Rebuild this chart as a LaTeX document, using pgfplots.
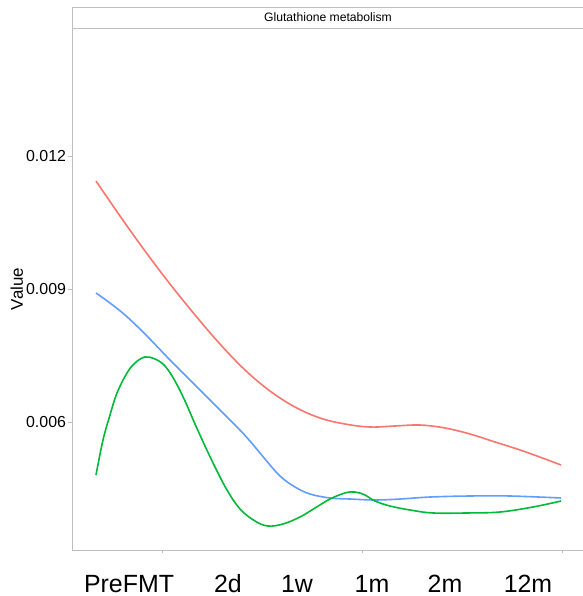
\documentclass[border=0pt]{standalone}
\usepackage{pgfplots}
\pgfplotsset{compat=1.18}
\usepackage{fontspec}
\setmainfont{Liberation Sans}
\definecolor{gred}{HTML}{F8766D}
\definecolor{ggreen}{HTML}{00BA38}
\definecolor{gblue}{HTML}{619CFF}
\definecolor{bord}{HTML}{BEBEBE}
\begin{document}
\begin{tikzpicture}
\path[use as bounding box] (0bp,0bp) rectangle (583bp,596bp);
\begin{axis}[
  at={(72.7bp,46bp)}, anchor=south west, scale only axis,
  width=512.3bp, height=522bp,
  xmin=72.7, xmax=585, ymin=0.003113, ymax=0.014887,
  axis line style={bord, line width=0.8bp},
  tick pos=left,
  tick align=outside,
  major tick length=5bp,
  scaled y ticks=false,
  ytick={0.006,0.009,0.012},
  yticklabels={0.006,0.009,0.012},
  ytick style={draw=bord, line width=0.8bp},
  yticklabel style={font=\fontsize{16}{16}\selectfont, inner sep=0pt, anchor=east, xshift=-1.5bp},
  xtick={129,228,297,372,445,528},
  xticklabels={PreFMT,2d,1w,1m,2m,12m},
  xtick style={draw=none},
  xticklabel style={font=\fontsize{25}{25}\selectfont, inner sep=0pt, anchor=north, text height=18.3bp, text depth=0pt, yshift=-18.5bp},
  extra x ticks={162,362,562},
  extra x tick labels={},
  extra x tick style={xtick style={draw=bord, line width=0.8bp}, major tick length=3bp},
  ylabel={Value},
  ylabel style={at={(axis description cs:-0.0974,0.5)}, anchor=base, inner sep=0pt, font=\fontsize{17}{17}\selectfont},
]
\addplot[gred, line width=1.6bp, smooth, tension=0.6] coordinates {
(96,0.011436) (120,0.010647) (145,0.009857) (170,0.009113) (195,0.008414)
(220,0.007759) (245,0.007173) (270,0.006699) (295,0.006338) (320,0.006090)
(345,0.005955) (370,0.005887) (395,0.005910) (420,0.005932) (445,0.005865)
(470,0.005729) (495,0.005549) (520,0.005369) (545,0.005166) (561,0.005030)
};
\addplot[gblue, line width=1.6bp, smooth, tension=0.6] coordinates {
(96,0.008910) (110,0.008684) (125,0.008414) (145,0.007985) (170,0.007399)
(195,0.006835) (220,0.006271) (237,0.005887) (250,0.005571) (265,0.005165)
(280,0.004782) (295,0.004534) (310,0.004376) (330,0.004286) (350,0.004263)
(375,0.004241) (400,0.004263) (430,0.004308) (470,0.004331) (510,0.004331)
(561,0.004286)
};
\addplot[ggreen, line width=1.6bp, smooth, tension=0.6] coordinates {
(96,0.004805) (103,0.005594) (110,0.006158) (117,0.006654) (127,0.007105)
(135,0.007331) (145,0.007466) (155,0.007421) (165,0.007263) (175,0.006925)
(185,0.006474) (195,0.005955) (205,0.005459) (215,0.004985) (227,0.004466)
(240,0.004038) (255,0.003767) (268,0.003654) (283,0.003700) (300,0.003857)
(315,0.004060) (330,0.004263) (345,0.004399) (355,0.004421) (365,0.004354)
(375,0.004218) (390,0.004105) (410,0.004015) (433,0.003948) (467,0.003948)
(500,0.003970) (533,0.004083) (561,0.004218)
};
\end{axis}
\draw[bord, line width=0.8bp, fill=white] (72.7bp,568bp) rectangle (586bp,588.7bp);
\node[font=\fontsize{12.2}{12.2}\selectfont] at (328bp,578.5bp) {Glutathione metabolism};
\end{tikzpicture}
\end{document}
